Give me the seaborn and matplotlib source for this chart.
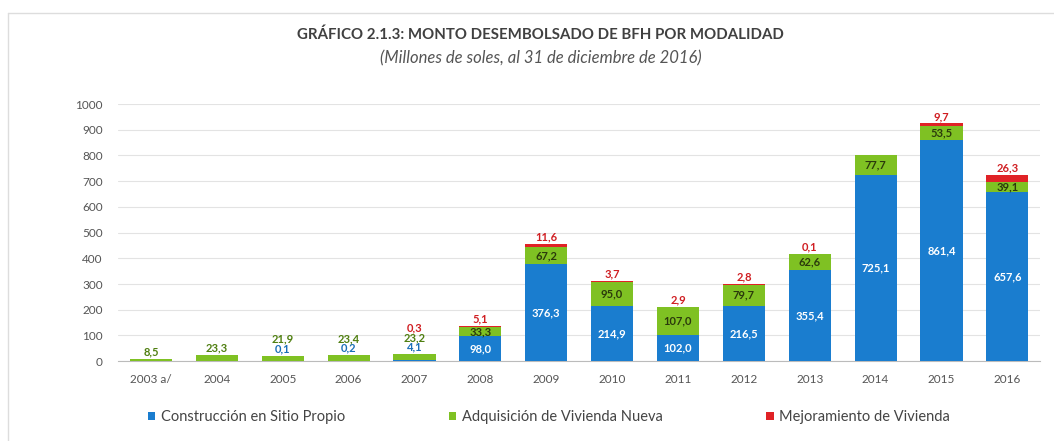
import numpy as np
import pandas as pd
import matplotlib
matplotlib.use("Agg")
import matplotlib.pyplot as plt
from matplotlib.patches import Patch
from matplotlib.lines import Line2D
import seaborn as sns

# Montos desembolsados del BFH por modalidad (millones de soles)
years = ["2003 a/", "2004", "2005", "2006", "2007", "2008", "2009",
         "2010", "2011", "2012", "2013", "2014", "2015", "2016"]
construccion = [0.0, 0.0, 0.1, 0.2, 4.1, 98.0, 376.3,
                214.9, 102.0, 216.5, 355.4, 725.1, 861.4, 657.6]
adquisicion = [8.5, 23.3, 21.9, 23.4, 23.2, 33.3, 67.2,
               95.0, 107.0, 79.7, 62.6, 77.7, 53.5, 39.1]
mejoramiento = [0.0, 0.0, 0.0, 0.0, 0.3, 5.1, 11.6,
                3.7, 2.9, 2.8, 0.1, 0.0, 9.7, 26.3]
series_names = ["Construcción en Sitio Propio", "Adquisición de Vivienda Nueva",
                "Mejoramiento de Vivienda"]
y_ticks = [0, 100, 200, 300, 400, 500, 600, 700, 800, 900, 1000]

title = "GRÁFICO 2.1.3: MONTO DESEMBOLSADO DE BFH POR MODALIDAD"
subtitle = "(Millones de soles, al 31 de diciembre de 2016)"

colors = ["#1a7dcf", "#7fc123", "#e02226"]
inside_colors = ["white", "#2b3a0c", "white"]
outside_colors = ["#1a6fb8", "#4f7f10", "#d01e22"]

sns.set_theme(style="white")
plt.rcParams["font.family"] = ["Lato", "DejaVu Sans"]

df = pd.DataFrame({
    "year": years,
    "c": construccion,
    "a": adquisicion,
    "m": mejoramiento,
})
df["c_a"] = df["c"] + df["a"]
df["total"] = df["c_a"] + df["m"]

fig = plt.figure(figsize=(10.54, 4.41), dpi=100)
ax = fig.add_axes([0.112, 0.181, 0.875, 0.583])

# Stacked bars: draw cumulative totals from the top layer down
for col, color in zip(["total", "c_a", "c"], colors[::-1]):
    sns.barplot(data=df, x="year", y=col, color=color, width=0.64,
                saturation=1, linewidth=0, edgecolor="none", ax=ax, zorder=3)

ax.set_ylim(0, 1000)
ax.set_xlim(-0.5, len(years) - 0.5)
ax.set_yticks(y_ticks)
ax.set_yticklabels([str(t) for t in y_ticks])
ax.set_xlabel("")
ax.set_ylabel("")
ax.tick_params(axis="x", labelsize=8.5, colors="#555555", length=0, pad=9)
ax.tick_params(axis="y", labelsize=8.5, colors="#555555", length=0, pad=11)
ax.yaxis.grid(True, color="#e3e3e3", linewidth=0.8, zorder=0)
ax.xaxis.grid(False)
for side in ["top", "right", "left"]:
    ax.spines[side].set_visible(False)
ax.spines["bottom"].set_color("#bbbbbb")
ax.spines["bottom"].set_linewidth(0.8)

# Value labels: inside the segment when it is tall enough,
# otherwise stacked just above the bar in the series colour
min_h = 32.0
step = 37.0
for i in range(len(years)):
    bottom = 0.0
    total = construccion[i] + adquisicion[i] + mejoramiento[i]
    n_out = 0
    for k, vals in enumerate([construccion, adquisicion, mejoramiento]):
        v = vals[i]
        if v <= 0:
            continue
        txt = f"{v:.1f}".replace(".", ",")
        if v >= min_h:
            ax.text(i, bottom + v / 2, txt, ha="center", va="center",
                    fontsize=8, fontweight="bold", color=inside_colors[k],
                    zorder=5)
        else:
            ax.text(i, total + 6 + n_out * step, txt, ha="center",
                    va="bottom", fontsize=8, fontweight="bold",
                    color=outside_colors[k], zorder=5)
            n_out += 1
        bottom += v

fig.text(0.513, 0.921, title, ha="center", va="center", fontsize=10.8,
         fontweight="bold", color="#404040")
fig.text(0.513, 0.868, subtitle, ha="center", va="center", fontsize=12,
         fontstyle="italic", color="#555555")

handles = [Patch(facecolor=c, edgecolor="none") for c in colors]
fig.legend(handles, series_names, loc="center", bbox_to_anchor=(0.521, 0.054),
           ncol=3, frameon=False, fontsize=10.5, handlelength=0.5,
           handleheight=0.5, handletextpad=0.4, columnspacing=7.1,
           labelcolor="#444444")

# Light frame around the figure area
fig.add_artist(Line2D([0.0076, 0.0076], [0.0, 0.9705], color="#dddddd",
                      linewidth=1, transform=fig.transFigure))
fig.add_artist(Line2D([0.0076, 1.0], [0.9705, 0.9705], color="#dddddd",
                      linewidth=1, transform=fig.transFigure))

fig.savefig("out.png", dpi=100, facecolor="white")
